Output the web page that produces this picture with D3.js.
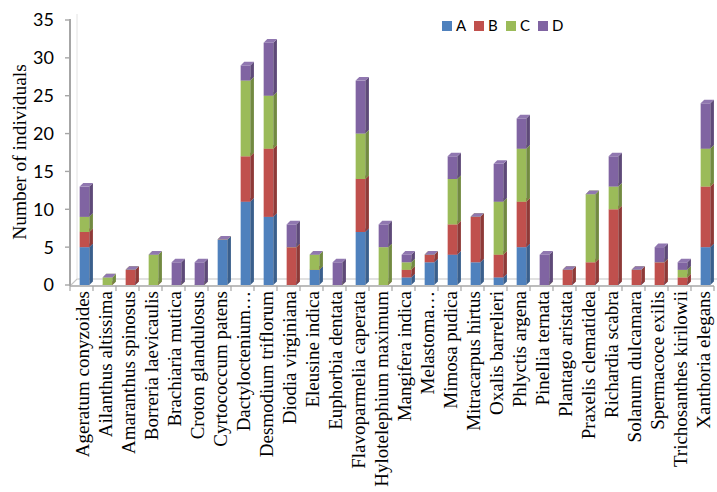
<!DOCTYPE html>
<html>
<head>
<meta charset="utf-8">
<script src="https://cdn.jsdelivr.net/npm/d3@7/dist/d3.min.js"></script>
<style>
  html, body { margin: 0; padding: 0; background: #fff; }
  svg { display: block; }
</style>
</head>
<body>
<svg id="chart" width="717" height="492"></svg>
<script>
// Species observed
const categories = [
  "Ageratum conyzoides", "Ailanthus altissima", "Amaranthus spinosus", "Borreria laevicaulis",
  "Brachiaria mutica", "Croton glandulosus", "Cyrtococcum patens", "Dactyloctenium…",
  "Desmodium triflorum", "Diodia virginiana", "Eleusine indica", "Euphorbia dentata",
  "Flavoparmelia caperata", "Hylotelephium maximum", "Mangifera indica", "Melastoma…",
  "Mimosa pudica", "Mitracarpus hirtus", "Oxalis barrelieri", "Phlyctis argena",
  "Pinellia ternata", "Plantago aristata", "Praxelis clematidea", "Richardia scabra",
  "Solanum dulcamara", "Spermacoce exilis", "Trichosanthes kirilowii", "Xanthoria elegans"
];

// Counts per group
const seriesNames = ["A", "B", "C", "D"];
const valuesA = [5,0,0,0,0,0,6,11,9,0,2,0,7,0,1,3,4,3,1,5,0,0,0,0,0,0,0,5];
const valuesB = [2,0,2,0,0,0,0,6,9,5,0,0,7,0,1,1,4,6,3,6,0,2,3,10,2,3,1,8];
const valuesC = [2,1,0,4,0,0,0,10,7,0,2,0,6,5,1,0,6,0,7,7,0,0,9,3,0,0,1,5];
const valuesD = [4,0,0,0,3,3,0,2,7,3,0,3,7,3,1,0,3,0,5,4,4,0,0,4,0,2,1,6];

const yTicks = [0, 5, 10, 15, 20, 25, 30, 35];

const palette = {
  A: { front: "#4F81BD", side: "#3A5F8C", top: "#6F97CC" },
  B: { front: "#C0504D", side: "#8E3A38", top: "#CF6E6B" },
  C: { front: "#9BBB59", side: "#728A41", top: "#AFCB75" },
  D: { front: "#8064A2", side: "#5E4A78", top: "#9077B0" }
};

const table = categories.map((c, i) => ({
  name: c, A: valuesA[i], B: valuesB[i], C: valuesC[i], D: valuesD[i]
}));
const stacked = d3.stack().keys(seriesNames)(table);

const svg = d3.select("#chart");

const plotLeft = 70, plotRight = 714, plotTop = 20, plotBase = 285;
const x = d3.scaleBand().domain(categories).range([plotLeft, plotRight]).padding(0);
const y = d3.scaleLinear().domain([0, 35]).range([plotBase, plotTop]);

const bw = x.bandwidth();
const barOffset = bw * 0.42;
const barW = bw * 0.42;
const depth = 3.6;

// 3D frame: floor and left wall
const frame = svg.append("g").attr("stroke", "#a6a6a6").attr("fill", "none");
frame.append("path")
  .attr("d", `M${plotLeft},${plotBase + 1} L${plotRight},${plotBase + 1}`)
  .attr("stroke-width", 1.6);
frame.append("path")
  .attr("d", `M${plotLeft},${plotBase + 1} L${plotLeft + 7},${plotBase - 6} L${717},${plotBase - 6}`)
  .attr("stroke", "#c4c4c4").attr("stroke-width", 1.2);
frame.append("path")
  .attr("d", `M${plotLeft + 7},${plotBase - 6} L${plotLeft + 7},${plotTop - 6}`)
  .attr("stroke", "#e2e2e2").attr("stroke-width", 1);
frame.append("path")
  .attr("d", `M${plotLeft},${plotBase + 1} L${plotLeft},${plotTop - 1}`)
  .attr("stroke-width", 2);

// Y axis ticks and labels
const yAxis = svg.append("g");
yTicks.forEach(t => {
  yAxis.append("line")
    .attr("x1", plotLeft - 5).attr("x2", plotLeft)
    .attr("y1", y(t)).attr("y2", y(t))
    .attr("stroke", "#a6a6a6").attr("stroke-width", 1.4);
  yAxis.append("text")
    .attr("x", plotLeft - 16).attr("y", y(t))
    .attr("dy", "0.36em")
    .attr("text-anchor", "end")
    .attr("font-family", "Lato, 'Liberation Sans', sans-serif")
    .attr("font-size", 18)
    .attr("fill", "#000")
    .text(t);
});

// X axis ticks at band edges
const xAxis = svg.append("g");
d3.range(categories.length + 1).forEach(i => {
  const xx = plotLeft + i * bw;
  xAxis.append("line")
    .attr("x1", xx).attr("x2", xx)
    .attr("y1", plotBase + 1).attr("y2", plotBase + 6)
    .attr("stroke", "#a6a6a6").attr("stroke-width", 1.2);
});

// Category labels, rotated
svg.append("g").selectAll("text")
  .data(categories)
  .join("text")
  .attr("transform", d => `translate(${x(d) + bw / 2 + 1},${plotBase + 6}) rotate(-90)`)
  .attr("dy", "0.35em")
  .attr("text-anchor", "end")
  .attr("font-family", "'Liberation Serif', 'Times New Roman', serif")
  .attr("font-size", 19)
  .attr("fill", "#000")
  .text(d => d);

// Y axis title
svg.append("text")
  .attr("transform", `translate(19,152) rotate(-90)`)
  .attr("dy", "0.35em")
  .attr("text-anchor", "middle")
  .attr("font-family", "'Liberation Serif', 'Times New Roman', serif")
  .attr("font-size", 19.4)
  .attr("fill", "#000")
  .text("Number of individuals");

// Stacked 3D columns
const bars = svg.append("g");
stacked.forEach(layer => {
  const key = layer.key;
  const col = palette[key];
  layer.forEach((seg, i) => {
    const cat = categories[i];
    const x0 = x(cat) + barOffset;
    const x1 = x0 + barW;
    const yb = y(seg[0]);
    const yt = y(seg[1]);
    const g = bars.append("g");
    if (seg[1] > seg[0]) {
      g.append("rect")
        .attr("x", x0).attr("y", yt)
        .attr("width", barW).attr("height", yb - yt)
        .attr("fill", col.front);
      g.append("path")
        .attr("d", `M${x1},${yb} L${x1 + depth},${yb - depth} L${x1 + depth},${yt - depth} L${x1},${yt} Z`)
        .attr("fill", col.side);
    }
    g.append("path")
      .attr("d", `M${x0},${yt} L${x1},${yt} L${x1 + depth},${yt - depth} L${x0 + depth},${yt - depth} Z`)
      .attr("fill", col.top);
  });
});

// Legend
const legend = svg.append("g").attr("transform", "translate(442,21)");
seriesNames.forEach((s, i) => {
  const gx = i * 32;
  legend.append("rect")
    .attr("x", gx).attr("y", 0)
    .attr("width", 10).attr("height", 10)
    .attr("fill", palette[s].front);
  legend.append("text")
    .attr("x", gx + 14).attr("y", 5)
    .attr("dy", "0.36em")
    .attr("font-family", "Lato, 'Liberation Sans', sans-serif")
    .attr("font-size", 15)
    .attr("fill", "#000")
    .text(s);
});
</script>
</body>
</html>
